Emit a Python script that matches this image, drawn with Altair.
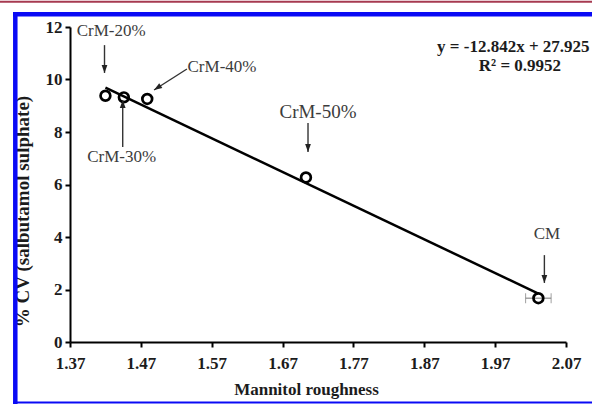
import math
import altair as alt
import pandas as pd

# ---- measured data -------------------------------------------------------
labels = ["CrM-20%", "CrM-30%", "CrM-40%", "CrM-50%", "CM"]
roughness = [1.420, 1.446, 1.479, 1.703, 2.031]
cv = [9.38, 9.32, 9.26, 6.27, 1.67]
roughness_err = [0.0, 0.0, 0.0, 0.0, 0.018]

# linear fit reported for the series
slope = -12.842
intercept = 27.925
r_squared = 0.9952

# axis ticks
x_ticks = [1.37, 1.47, 1.57, 1.67, 1.77, 1.87, 1.97, 2.07]
y_ticks = [0, 2, 4, 6, 8, 10, 12]

# callout labels (data units) and their arrows (start -> tip)
note_x = [1.428, 1.443, 1.5845, 1.720, 2.043]
note_y = [11.85, 7.05, 10.48, 8.76, 4.11]
arrow_x1 = [1.4187, 1.4444, 1.5350, 1.7059, 2.0395]
arrow_y1 = [11.31, 7.43, 10.40, 8.34, 3.31]
arrow_x2 = [1.4187, 1.4444, 1.4886, 1.7059, 2.0395]
arrow_y2 = [10.25, 9.22, 9.60, 7.24, 2.25]

# equation block anchors
eq_x = [1.8880, 2.0050]
eq_y = [11.24, 10.53]

# ---- layout ---------------------------------------------------------------
W, H = 496, 315
X_DOM = [1.37, 2.07]
Y_DOM = [0, 12]
SERIF = "Liberation Serif"
INK = "#1c1c1c"
NOTE = "#3c3c3c"

kx = W / (X_DOM[1] - X_DOM[0])
ky = H / (Y_DOM[1] - Y_DOM[0])

points = pd.DataFrame({"label": labels, "x": roughness, "y": cv, "err": roughness_err})
points["lo"] = points["x"] - points["err"]
points["hi"] = points["x"] + points["err"]
bars = points[points["err"] > 0]

notes = pd.DataFrame({"label": labels, "x": note_x, "y": note_y})

arrows = pd.DataFrame({"x1": arrow_x1, "y1": arrow_y1, "x2": arrow_x2, "y2": arrow_y2})
# screen-space heading of each arrow, used to rotate its head
arrows["ang"] = [
    math.degrees(math.atan2((b - a) * kx, (d - c) * ky)) % 360
    for a, b, c, d in zip(arrows.x1, arrows.x2, arrows.y1, arrows.y2)
]

fit = pd.DataFrame({"x": [min(roughness), max(roughness)]})

eq = pd.DataFrame({
    "x": eq_x,
    "y": eq_y,
    "t": [f"y = {slope}x + {intercept}", f"R\u00b2 = {r_squared}"],
    "a": ["left", "center"],
})

xs = alt.Scale(domain=X_DOM, nice=False, zero=False)
ys = alt.Scale(domain=Y_DOM, nice=False, zero=True)

x_axis = alt.Axis(
    values=x_ticks, format=".2f", title="Mannitol roughness", grid=False,
    labelFont=SERIF, labelFontSize=17, labelFontWeight="bold", labelColor=INK,
    labelFlush=False, labelOverlap=False,
    titleFont=SERIF, titleFontSize=17, titleFontWeight="bold", titleColor=INK,
    domainColor="black", domainWidth=2, tickColor="black", tickWidth=2, tickSize=5,
    labelPadding=8, titleX=236, titleY=47, titleBaseline="middle", titleAlign="center",
)
y_axis = alt.Axis(
    values=y_ticks, format="d", title="% CV (salbutamol sulphate)", grid=False,
    labelFont=SERIF, labelFontSize=17, labelFontWeight="bold", labelColor=INK,
    labelFlush=False, labelOverlap=False,
    titleFont=SERIF, titleFontSize=19, titleFontWeight="bold", titleColor=INK,
    domainColor="black", domainWidth=2, tickColor="black", tickWidth=2, tickSize=5,
    labelPadding=3, titleX=-48, titleY=184, titleAngle=270,
    titleBaseline="middle", titleAlign="center",
)

one = alt.Data(values=[{}])

# page decoration: red rule across the top and blue frame
red_rule = alt.Chart(one).mark_rule(color="#a63a50", strokeWidth=2).encode(
    x=alt.value(-70), x2=alt.value(522), y=alt.value(-25.2))
blue_top = alt.Chart(one).mark_rule(color="#0a0af5", strokeWidth=4.5).encode(
    x=alt.value(-57), x2=alt.value(522), y=alt.value(-12.7))
blue_left = alt.Chart(one).mark_rule(color="#0a0af5", strokeWidth=4.5).encode(
    x=alt.value(-54.7), y=alt.value(-15), y2=alt.value(377))
blue_bottom = alt.Chart(one).mark_rule(color="#0a0af5", strokeWidth=2).encode(
    x=alt.value(-57), x2=alt.value(522), y=alt.value(375.5))

# regression line from the reported coefficients
fit_line = alt.Chart(fit).transform_calculate(
    yf=f"{slope} * datum.x + {intercept}"
).mark_line(color="black", strokeWidth=2.5).encode(
    x=alt.X("x:Q", scale=xs, axis=x_axis),
    y=alt.Y("yf:Q", scale=ys, axis=y_axis),
)

err_bar = alt.Chart(bars).mark_rule(color="#777777", strokeWidth=1).encode(
    x=alt.X("lo:Q", scale=xs), x2="hi:Q", y=alt.Y("y:Q", scale=ys))
err_caps = alt.Chart(bars).transform_fold(["lo", "hi"], as_=["end", "xe"]).mark_tick(
    color="#777777", thickness=1, size=10, orient="vertical"
).encode(x=alt.X("xe:Q", scale=xs), y=alt.Y("y:Q", scale=ys))

circles = alt.Chart(points).mark_point(
    shape="circle", size=95, filled=False, color="black", strokeWidth=2.7, opacity=1
).encode(x=alt.X("x:Q", scale=xs), y=alt.Y("y:Q", scale=ys))

arrow_shafts = alt.Chart(arrows).mark_rule(color="#333333", strokeWidth=1.4).encode(
    x=alt.X("x1:Q", scale=xs), y=alt.Y("y1:Q", scale=ys), x2="x2:Q", y2="y2:Q")
arrow_heads = alt.Chart(arrows).mark_point(
    shape="M0,0L-0.36,1L0.36,1Z", size=256, filled=True, color="#222222", opacity=1
).encode(
    x=alt.X("x2:Q", scale=xs), y=alt.Y("y2:Q", scale=ys),
    angle=alt.Angle("ang:Q", scale=None),
)

note_text = alt.Chart(notes).transform_filter("datum.label != 'CrM-50%'").mark_text(
    font=SERIF, fontSize=17, color=NOTE, align="center", baseline="middle"
).encode(x=alt.X("x:Q", scale=xs), y=alt.Y("y:Q", scale=ys), text="label:N")
note_text_big = alt.Chart(notes).transform_filter("datum.label == 'CrM-50%'").mark_text(
    font=SERIF, fontSize=19, color=NOTE, align="center", baseline="middle"
).encode(x=alt.X("x:Q", scale=xs), y=alt.Y("y:Q", scale=ys), text="label:N")

eq_left = alt.Chart(eq[eq.a == "left"]).mark_text(
    font=SERIF, fontSize=17, fontWeight="bold", color=INK, align="left", baseline="middle"
).encode(x=alt.X("x:Q", scale=xs), y=alt.Y("y:Q", scale=ys), text="t:N")
eq_center = alt.Chart(eq[eq.a == "center"]).mark_text(
    font=SERIF, fontSize=17, fontWeight="bold", color=INK, align="center", baseline="middle"
).encode(x=alt.X("x:Q", scale=xs), y=alt.Y("y:Q", scale=ys), text="t:N")

chart = alt.layer(
    fit_line, red_rule, blue_top, blue_left, blue_bottom,
    err_bar, err_caps, circles, arrow_shafts, arrow_heads,
    note_text, note_text_big, eq_left, eq_center,
).properties(
    width=W, height=H,
    padding={"left": 70, "top": 27, "right": 26, "bottom": 63},
    autosize=alt.AutoSizeParams(type="none"),
    background="white",
).configure_view(strokeWidth=0)

chart.save("out.html", embed_options={"renderer": "svg", "actions": False})
